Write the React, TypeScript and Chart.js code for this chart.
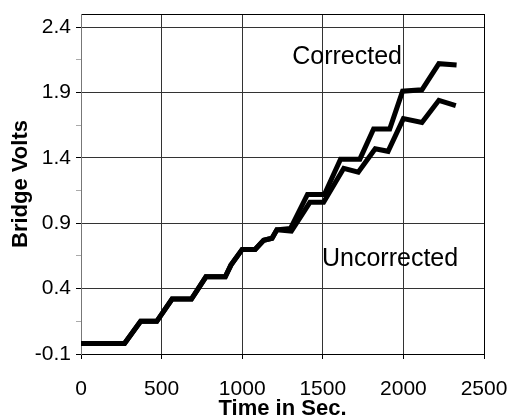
import React, { useEffect, useRef } from "react";
import { Chart, registerables } from "chart.js";

Chart.register(...registerables);

// ---- data ----
const TIME_CORRECTED = [0, 230, 270, 370, 470, 565, 685, 775, 895, 930, 1000, 1080, 1133, 1185, 1215, 1300, 1405, 1510, 1610, 1730, 1815, 1915, 1995, 2115, 2220, 2330];
const CORRECTED = [-0.02, -0.02, -0.02, 0.15, 0.15, 0.32, 0.32, 0.49, 0.49, 0.58, 0.7, 0.7, 0.77, 0.785, 0.85, 0.86, 1.12, 1.12, 1.39, 1.39, 1.62, 1.62, 1.91, 1.92, 2.12, 2.11];

const TIME_UNCORRECTED = [0, 230, 270, 370, 470, 565, 685, 775, 895, 930, 1000, 1080, 1133, 1185, 1215, 1305, 1420, 1505, 1630, 1720, 1825, 1905, 2000, 2115, 2220, 2325];
const UNCORRECTED = [-0.02, -0.02, -0.02, 0.15, 0.15, 0.32, 0.32, 0.49, 0.49, 0.58, 0.7, 0.7, 0.77, 0.785, 0.85, 0.84, 1.06, 1.06, 1.32, 1.29, 1.47, 1.45, 1.7, 1.67, 1.84, 1.8];

const Y_MAJOR_TICKS = [-0.1, 0.4, 0.9, 1.4, 1.9, 2.4];
const Y_MINOR_TICKS = [0.15, 0.65, 1.15, 1.65, 2.15];
const Y_MIN = -0.1;
const Y_MAX = 2.5;
const X_TICKS = [0, 500, 1000, 1500, 2000, 2500];

const LABEL_TEXTS = ["Corrected", "Uncorrected"];
const LABEL_X = [1310, 1495];
const LABEL_Y = [2.12, 0.572];

const FONT = "'Liberation Sans', Arial, sans-serif";

const isMajor = (v: number) => Y_MAJOR_TICKS.some((m) => Math.abs(m - v) < 1e-6);
const isTop = (v: number) => Math.abs(v - Y_MAX) < 1e-6;

const labelPlugin = {
  id: "curveLabels",
  afterDatasetsDraw(chart: any) {
    const { ctx, scales } = chart;
    ctx.save();
    ctx.fillStyle = "#000";
    ctx.font = `25px ${FONT}`;
    ctx.textBaseline = "alphabetic";
    ctx.textAlign = "left";
    LABEL_TEXTS.forEach((t, i) => {
      ctx.fillText(t, scales.x.getPixelForValue(LABEL_X[i]), scales.y.getPixelForValue(LABEL_Y[i]));
    });
    ctx.restore();
  },
};

export default function App() {
  const ref = useRef<HTMLCanvasElement | null>(null);

  useEffect(() => {
    document.body.style.margin = "0";
    const canvas = ref.current;
    if (!canvas) return;
    const chart = new Chart(canvas, {
      type: "line",
      data: {
        datasets: [
          {
            label: "Uncorrected",
            data: TIME_UNCORRECTED.map((x, i) => ({ x, y: UNCORRECTED[i] })),
            borderColor: "#000",
            borderWidth: 5,
            pointRadius: 0,
            tension: 0,
            fill: false,
          },
          {
            label: "Corrected",
            data: TIME_CORRECTED.map((x, i) => ({ x, y: CORRECTED[i] })),
            borderColor: "#000",
            borderWidth: 5,
            pointRadius: 0,
            tension: 0,
            fill: false,
          },
        ],
      },
      options: {
        responsive: false,
        animation: false,
        maintainAspectRatio: false,
        layout: { padding: { left: 0, right: 26, top: 14, bottom: 0 } },
        plugins: { legend: { display: false }, tooltip: { enabled: false } },
        scales: {
          x: {
            type: "linear",
            min: X_TICKS[0],
            max: X_TICKS[X_TICKS.length - 1],
            afterBuildTicks: (scale: any) => {
              scale.ticks = X_TICKS.map((v) => ({ value: v }));
            },
            afterFit: (scale: any) => {
              scale.height = 64;
              scale.paddingRight = 0;
              scale.paddingLeft = 0;
            },
            ticks: {
              color: "#000",
              font: { family: FONT, size: 21 },
              padding: 18,
              maxRotation: 0,
              autoSkip: false,
              callback: (v: any) => String(v),
            },
            grid: {
              color: (c: any) => (c.tick && c.tick.value === 2500 ? "#000" : "#333"),
              lineWidth: 1,
              tickLength: 5,
              tickColor: "#000",
            },
            border: { color: "#000", width: 1 },
            title: {
              display: true,
              text: "Time in Sec.",
              color: "#000",
              font: { family: FONT, size: 22, weight: "bold", lineHeight: 1 },
              padding: { top: 0, bottom: -2 },
            },
          },
          y: {
            type: "linear",
            min: Y_MIN,
            max: Y_MAX,
            afterBuildTicks: (scale: any) => {
              const vals = [...Y_MAJOR_TICKS, ...Y_MINOR_TICKS, Y_MAX].sort((a, b) => a - b);
              scale.ticks = vals.map((v) => ({ value: v }));
            },
            afterFit: (scale: any) => {
              scale.width = 81;
              scale.paddingTop = 0;
              scale.paddingBottom = 0;
            },
            ticks: {
              color: "#000",
              font: { family: FONT, size: 21 },
              padding: 5,
              autoSkip: false,
              callback: (v: any) => (isMajor(Number(v)) ? Number(v).toFixed(1) : ""),
            },
            grid: {
              color: (c: any) => {
                const v = c.tick ? c.tick.value : 0;
                if (isTop(v)) return "#000";
                return isMajor(v) ? "#333" : "rgba(0,0,0,0)";
              },
              lineWidth: 1,
              tickLength: 5,
              tickColor: (c: any) => {
                const v = c.tick ? c.tick.value : 0;
                if (isTop(v)) return "rgba(0,0,0,0)";
                return isMajor(v) ? "#000" : "#aaa";
              },
            },
            border: { color: "#777", width: 1 },
            title: {
              display: true,
              text: "Bridge Volts",
              color: "#000",
              font: { family: FONT, size: 22, weight: "bold", lineHeight: 1.2 },
              padding: { top: 8, bottom: 0 },
            },
          },
        },
      },
      plugins: [labelPlugin],
    });
    return () => chart.destroy();
  }, []);

  return (
    <div style={{ width: 510, height: 418 }}>
      <canvas ref={ref} width={510} height={418} style={{ display: "block" }} />
    </div>
  );
}
